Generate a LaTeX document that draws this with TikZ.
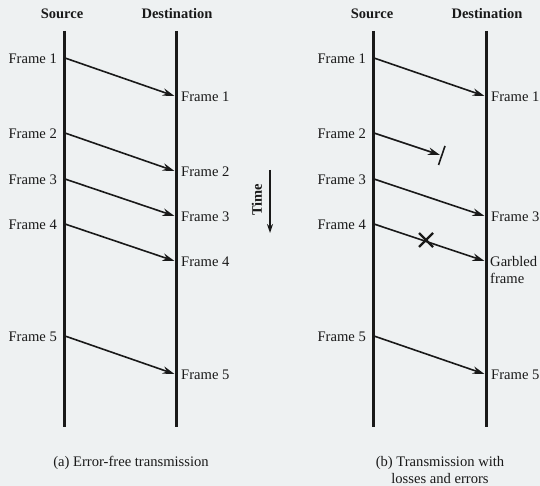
\documentclass[tikz,border=0pt]{standalone}
\usepackage{fontspec}
\setmainfont{Liberation Serif}
\usetikzlibrary{arrows.meta,calc}
\definecolor{bg}{RGB}{238,241,242}
\definecolor{ink}{RGB}{25,25,25}
\begin{document}
\begin{tikzpicture}[x=1pt,y=-1pt,
  every node/.style={font=\fontsize{14.6}{17.5}\selectfont, text=ink, inner sep=0pt},
  head/.style={font=\fontsize{14.5}{16}\selectfont\bfseries},
  timeline/.style={line width=3pt, draw=ink},
  msg/.style={line width=1.6pt, draw=ink, -{Stealth[length=12pt,width=7.5pt]}},
  lbl/.style={anchor=west},
  src/.style={anchor=east}]
\fill[bg] (0,0) rectangle (540,486);
\useasboundingbox (0,0) rectangle (540,486);

% ---------- panel (a)
\node[head] (sa) at (62,14) {Source};
\node[head] (da) at (177,14) {Destination};
\coordinate (satop) at (64,31); \coordinate (sabot) at (64,427);
\coordinate (datop) at (176,31); \coordinate (dabot) at (176,427);
\draw[timeline] (satop) -- (sabot);
\draw[timeline] (datop) -- (dabot);

\foreach \i/\ys/\yd in {1/58/96, 2/133/171, 3/179/216, 4/224/261, 5/336/374}{
  \coordinate (as\i) at (65,\ys);
  \coordinate (ad\i) at (174.5,\yd);
  \node[src] (asl\i) at (57,\ys+1) {Frame \i};
  \node[lbl] (adl\i) at (181,\yd+1) {Frame \i};
  \draw[msg] (as\i) -- (ad\i);
}
\node (capa) at (131,463) {(a) Error-free transmission};

% ---------- time arrow
\node[head, rotate=90] (time) at (257,200) {Time};
\coordinate (tt) at (270,170); \coordinate (tb) at (270,233);
\draw[line width=1.3pt, draw=ink, -{Stealth[length=9pt,width=6pt]}] (tt) -- (tb);

% ---------- panel (b)
\node[head] (sb) at (372,14) {Source};
\node[head] (db) at (487,14) {Destination};
\coordinate (sbtop) at (373,31); \coordinate (sbbot) at (373,427);
\coordinate (dbtop) at (486,31); \coordinate (dbbot) at (486,427);
\draw[timeline] (sbtop) -- (sbbot);
\draw[timeline] (dbtop) -- (dbbot);

\foreach \i/\ys in {1/58, 2/133, 3/179, 4/224, 5/336}{
  \coordinate (bs\i) at (374,\ys);
  \node[src] (bsl\i) at (366,\ys+1) {Frame \i};
}
\coordinate (bd1) at (484.5,96);
\coordinate (bd3) at (484.5,216);
\coordinate (bd4) at (484.5,261);
\coordinate (bd5) at (484.5,374);
\coordinate (bd2) at (440,155);
\draw[msg] (bs1) -- (bd1);
\draw[msg] (bs3) -- (bd3);
\draw[msg] (bs4) -- (bd4);
\draw[msg] (bs5) -- (bd5);
\draw[msg] (bs2) -- (bd2);
% lost-frame bar
\coordinate (bar1) at (445,146); \coordinate (bar2) at (438.5,165);
\draw[line width=1.6pt, draw=ink] (bar1) -- (bar2);
% error cross
\coordinate (xc) at (426,240);
\draw[line width=2.4pt, draw=ink] ($(xc)+(-7,-7)$) -- ($(xc)+(7,7)$);
\draw[line width=2.4pt, draw=ink] ($(xc)+(-7,7)$) -- ($(xc)+(7,-7)$);

\node[lbl] (bdl1) at (491,97) {Frame 1};
\node[lbl] (bdl3) at (491,217) {Frame 3};
\node[lbl, align=left] (bdl4) at (490,270) {Garbled\\frame};
\node[lbl] (bdl5) at (491,375) {Frame 5};

\node[align=center, font=\fontsize{14.6}{17}\selectfont] (capb) at (440,470.5) {(b) Transmission with\\losses and errors};
\end{tikzpicture}
\end{document}
